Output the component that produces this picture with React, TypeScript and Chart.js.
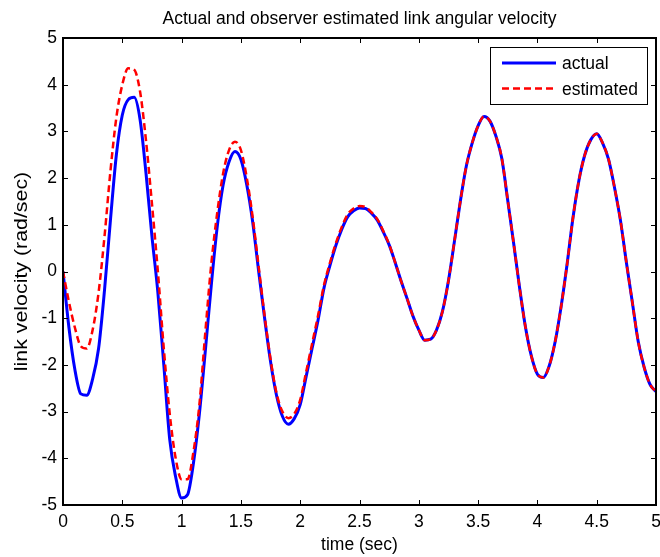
import React, { useEffect, useRef } from "react";
import { Chart, registerables } from "chart.js";

Chart.register(...registerables);

const chartTitle = "Actual and observer estimated link angular velocity";
const xAxisLabel = "time (sec)";
const yAxisLabel = "link velocity (rad/sec)";
const seriesNames = ["actual", "estimated"];

const xTicks = [0, 0.5, 1, 1.5, 2, 2.5, 3, 3.5, 4, 4.5, 5];
const yTicks = [-5, -4, -3, -2, -1, 0, 1, 2, 3, 4, 5];

const time = [
  0, 0.05, 0.1, 0.15, 0.2, 0.25, 0.3, 0.35, 0.4, 0.45,
  0.5, 0.55, 0.6, 0.65, 0.7, 0.75, 0.8, 0.85, 0.9, 0.95,
  1, 1.05, 1.1, 1.15, 1.2, 1.25, 1.3, 1.35, 1.4, 1.45,
  1.5, 1.55, 1.6, 1.65, 1.7, 1.75, 1.8, 1.85, 1.9, 1.95,
  2, 2.05, 2.1, 2.15, 2.2, 2.25, 2.3, 2.35, 2.4, 2.45,
  2.5, 2.55, 2.6, 2.65, 2.7, 2.75, 2.8, 2.85, 2.9, 2.95,
  3, 3.05, 3.1, 3.15, 3.2, 3.25, 3.3, 3.35, 3.4, 3.45,
  3.5, 3.55, 3.6, 3.65, 3.7, 3.75, 3.8, 3.85, 3.9, 3.95,
  4, 4.05, 4.1, 4.15, 4.2, 4.25, 4.3, 4.35, 4.4, 4.45,
  4.5, 4.55, 4.6, 4.65, 4.7, 4.75, 4.8, 4.85, 4.9, 4.95,
  5,
];

const actualVelocity = [
  0, -1.2, -2.1, -2.62, -2.65, -2.3, -1.65, -0.4, 1.1, 2.5,
  3.35, 3.68, 3.73, 3.25, 2.1, 0.75, -0.45, -2.0, -3.6, -4.4,
  -4.85, -4.78, -4.1, -3.05, -1.7, -0.3, 0.95, 1.85, 2.35, 2.57,
  2.4, 1.85, 1.05, 0.0, -1.0, -1.93, -2.65, -3.1, -3.27, -3.15,
  -2.85, -2.25, -1.65, -1.05, -0.36, 0.12, 0.55, 0.9, 1.17, 1.3,
  1.36, 1.35, 1.25, 1.1, 0.85, 0.57, 0.2, -0.2, -0.57, -0.95,
  -1.25, -1.47, -1.45, -1.25, -0.85, -0.2, 0.64, 1.5, 2.25, 2.75,
  3.12, 3.32, 3.22, 2.9, 2.42, 1.52, 0.6, -0.35, -1.2, -1.82,
  -2.2, -2.27, -2.02, -1.5, -0.75, 0.15, 1.15, 1.95, 2.5, 2.82,
  2.95, 2.75, 2.4, 1.8, 1.1, 0.2, -0.65, -1.5, -2.05, -2.42,
  -2.57,
];

const estimatedVelocity = [
  0, -0.65, -1.2, -1.6, -1.65, -1.25, -0.45, 0.75, 2.15, 3.3,
  4.0, 4.35, 4.32, 3.85, 2.8, 1.45, 0.0, -1.65, -3.05, -4.0,
  -4.45, -4.45, -3.86, -2.85, -1.3, 0.15, 1.25, 2.1, 2.6, 2.78,
  2.6, 2.0, 1.15, 0.1, -0.95, -1.88, -2.6, -3.0, -3.14, -3.05,
  -2.75, -2.15, -1.55, -0.95, -0.3, 0.18, 0.6, 0.95, 1.22, 1.35,
  1.4, 1.38, 1.27, 1.12, 0.87, 0.58, 0.2, -0.2, -0.57, -0.95,
  -1.25, -1.47, -1.45, -1.25, -0.85, -0.2, 0.64, 1.5, 2.25, 2.75,
  3.12, 3.32, 3.22, 2.9, 2.42, 1.52, 0.6, -0.35, -1.2, -1.82,
  -2.2, -2.27, -2.02, -1.5, -0.75, 0.15, 1.15, 1.95, 2.5, 2.82,
  2.95, 2.75, 2.4, 1.8, 1.1, 0.2, -0.65, -1.5, -2.05, -2.42,
  -2.57,
];

const FONT = "Arial, 'Liberation Sans', sans-serif";
const FONT_SIZE = 17.5;

const matlabDecor = {
  id: "matlabDecor",
  afterDatasetsDraw(chart: any) {
    const { ctx, chartArea, scales } = chart;
    const { left, right, top, bottom } = chartArea;
    ctx.save();
    ctx.strokeStyle = "#000";
    ctx.lineWidth = 1;
    const tl = 5;
    ctx.beginPath();
    scales.x.ticks.forEach((t: any) => {
      const px = Math.round(scales.x.getPixelForValue(t.value)) + 0.5;
      ctx.moveTo(px, bottom);
      ctx.lineTo(px, bottom - tl);
      ctx.moveTo(px, top);
      ctx.lineTo(px, top + tl);
    });
    scales.y.ticks.forEach((t: any) => {
      const py = Math.round(scales.y.getPixelForValue(t.value)) + 0.5;
      ctx.moveTo(left, py);
      ctx.lineTo(left + tl, py);
      ctx.moveTo(right, py);
      ctx.lineTo(right - tl, py);
    });
    ctx.stroke();
    ctx.lineWidth = 2;
    ctx.strokeRect(left, top, right - left, bottom - top);

    // legend
    const bx = 490.5, by = 47.5, bw = 157, bh = 57;
    ctx.fillStyle = "#fff";
    ctx.fillRect(bx, by, bw, bh);
    ctx.lineWidth = 1;
    ctx.strokeStyle = "#000";
    ctx.strokeRect(bx, by, bw, bh);
    const rows = [63, 88.5];
    chart.data.datasets.forEach((ds: any, i: number) => {
      const y = rows[i];
      ctx.save();
      ctx.strokeStyle = ds.borderColor;
      ctx.lineWidth = ds.borderWidth;
      ctx.setLineDash(ds.borderDash || []);
      ctx.beginPath();
      ctx.moveTo(502, y);
      ctx.lineTo(556, y);
      ctx.stroke();
      ctx.restore();
      ctx.fillStyle = "#000";
      ctx.font = `${FONT_SIZE}px ${FONT}`;
      ctx.textAlign = "left";
      ctx.textBaseline = "middle";
      ctx.fillText(ds.label, 562, y + 1.5);
    });

    // titles
    ctx.fillStyle = "#000";
    ctx.font = `${FONT_SIZE}px ${FONT}`;
    ctx.textAlign = "center";
    ctx.textBaseline = "alphabetic";
    const cx = (left + right) / 2;
    ctx.fillText(chartTitle, cx, 24);
    ctx.fillText(xAxisLabel, cx, 550);
    ctx.save();
    ctx.translate(22, (top + bottom) / 2);
    ctx.rotate(-Math.PI / 2);
    ctx.scale(1.22, 1);
    ctx.textBaseline = "middle";
    ctx.fillText(yAxisLabel, 0, 0);
    ctx.restore();
    ctx.restore();
  },
};

export default function App() {
  const ref = useRef<HTMLCanvasElement | null>(null);
  useEffect(() => {
    if (!ref.current) return;
    const chart = new Chart(ref.current, {
      type: "line",
      data: {
        datasets: [
          {
            label: seriesNames[0],
            data: time.map((t, i) => ({ x: t, y: actualVelocity[i] })),
            borderColor: "#0000ff",
            borderWidth: 3,
            pointRadius: 0,
            fill: false,
            order: 2,
            cubicInterpolationMode: "monotone",
          },
          {
            label: seriesNames[1],
            data: time.map((t, i) => ({ x: t, y: estimatedVelocity[i] })),
            borderColor: "#ff0000",
            borderWidth: 2.5,
            borderDash: [7, 4],
            pointRadius: 0,
            fill: false,
            order: 1,
            cubicInterpolationMode: "monotone",
          },
        ],
      },
      options: {
        animation: false,
        responsive: false,
        maintainAspectRatio: false,
        layout: { padding: { left: 0, top: 38, right: 4, bottom: 0 } },
        plugins: {
          legend: { display: false },
          title: { display: false },
          tooltip: { enabled: false },
        },
        scales: {
          x: {
            type: "linear",
            min: 0,
            max: 5,
            afterBuildTicks: (s: any) => {
              s.ticks = xTicks.map((v) => ({ value: v }));
            },
            afterFit: (s: any) => {
              s.height = 52;
              s.paddingLeft = 0;
              s.paddingRight = 0;
            },
            grid: { display: false, drawTicks: false },
            border: { display: false },
            ticks: {
              color: "#000",
              padding: 7,
              maxRotation: 0,
              autoSkip: false,
              font: { family: FONT, size: FONT_SIZE },
              callback: (v: any) => String(v),
            },
          },
          y: {
            type: "linear",
            min: -5,
            max: 5,
            afterBuildTicks: (s: any) => {
              s.ticks = yTicks.map((v) => ({ value: v }));
            },
            afterFit: (s: any) => {
              s.width = 63;
              s.paddingTop = 0;
              s.paddingBottom = 0;
            },
            grid: { display: false, drawTicks: false },
            border: { display: false },
            ticks: {
              color: "#000",
              padding: 6,
              autoSkip: false,
              font: { family: FONT, size: FONT_SIZE },
              callback: (v: any) => String(v),
            },
          },
        },
      },
      plugins: [matlabDecor],
    } as any);
    return () => chart.destroy();
  }, []);
  return (
    <div style={{ position: "absolute", left: 0, top: 0, width: 660, height: 557, background: "#fff" }}>
      <canvas ref={ref} width={660} height={557} style={{ display: "block", width: 660, height: 557 }} />
    </div>
  );
}
